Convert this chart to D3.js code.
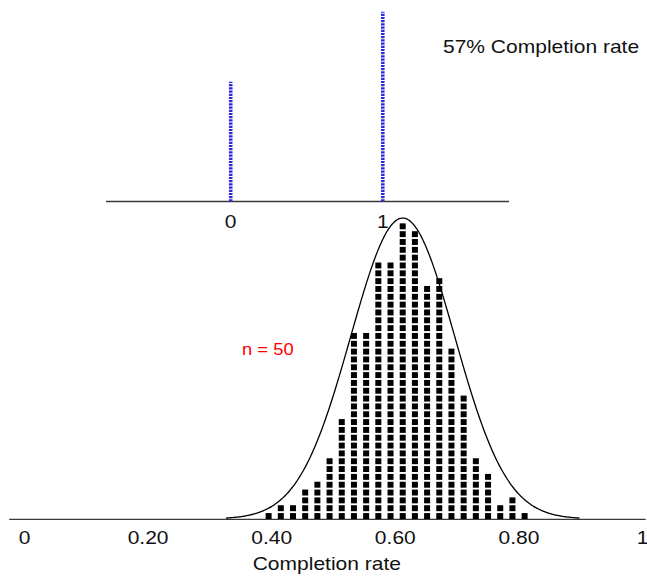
<!DOCTYPE html>
<html>
<head>
<meta charset="utf-8">
<script src="https://cdn.jsdelivr.net/npm/d3@7"></script>
<style>
  html, body { margin: 0; padding: 0; background: #fff; }
  svg { display: block; }
  text { font-family: "Liberation Sans", Arial, sans-serif; }
</style>
</head>
<body>
<svg id="chart" width="647" height="578"></svg>
<script>
// ---- data ----
const popCategories = [0, 1];
const popValues = [0.43, 0.57];
const popTickLabels = ["0", "1"];

const sampleProportions = [0.36, 0.38, 0.40, 0.42, 0.44, 0.46, 0.48, 0.50, 0.52, 0.54, 0.56,
                           0.58, 0.60, 0.62, 0.64, 0.66, 0.68, 0.70, 0.72, 0.74, 0.76, 0.78];
const sampleCounts = [1, 2, 2, 4, 5, 8, 13, 24, 24, 33, 33, 38, 37, 30, 31, 22, 16, 8, 6, 2, 3, 1];

const curveMean = 0.58;
const curveSd = 0.0853;

const axisTickValues = [0, 0.2, 0.4, 0.6, 0.8, 1];
const axisTickLabels = ["0", "0.20", "0.40", "0.60", "0.80", "1"];

const titleText = "57% Completion rate";
const sampleSizeText = "n = 50";
const axisTitle = "Completion rate";

// ---- drawing ----
const svg = d3.select("#chart");
const SX = 1.13; // horizontal stretch of the lettering

// top: population bars
const xTop = d3.scaleLinear().domain([-0.82, 1.83]).range([106, 509]);
const yTop = d3.scaleLinear().domain([0.19, 0.57]).range([201.5, 11.7]);

svg.append("line")
  .attr("x1", xTop.range()[0]).attr("x2", xTop.range()[1])
  .attr("y1", yTop(0.19)).attr("y2", yTop(0.19))
  .attr("stroke", "#3a3a3a").attr("stroke-width", 1.3);

svg.selectAll("line.popbar").data(popCategories).join("line")
  .attr("class", "popbar")
  .attr("x1", d => xTop(d)).attr("x2", d => xTop(d))
  .attr("y1", yTop(0.19))
  .attr("y2", (d, i) => yTop(popValues[i]))
  .attr("stroke", "#2b2bd9")
  .attr("stroke-width", 3.6)
  .attr("stroke-dasharray", "2.2,1");

svg.selectAll("text.poplab").data(popCategories).join("text")
  .attr("class", "poplab")
  .attr("transform", d => `translate(${xTop(d)},228) scale(${SX},1)`)
  .attr("text-anchor", "middle")
  .attr("font-size", 18.6)
  .attr("fill", "#111")
  .text((d, i) => popTickLabels[i]);

svg.append("text")
  .attr("transform", `translate(443,53) scale(${SX},1)`)
  .attr("font-size", 18.6)
  .attr("fill", "#111")
  .text(titleText);

// bottom: sampling distribution
const xDots = d3.scaleLinear().domain([0, 1]).range([49.2, 658.7]);
const yDots = d3.scaleLinear().domain([0, 1]).range([519, 511.17]);
const yCurve = d3.scaleLinear().domain([0, 1]).range([519, 218]);
const xTicks = d3.scaleLinear().domain([0, 1]).range([24, 642]);

// baseline
svg.append("line")
  .attr("x1", xTicks(-0.024)).attr("x2", xTicks(1.006))
  .attr("y1", 519.3).attr("y2", 519.3)
  .attr("stroke", "#3a3a3a").attr("stroke-width", 1.3);

// dots
const dotCells = [];
sampleProportions.forEach((p, i) => {
  for (let j = 1; j <= sampleCounts[i]; j++) dotCells.push({ p, j });
});
const dotW = 6;
svg.append("g").selectAll("rect").data(dotCells).join("rect")
  .attr("x", d => xDots(d.p) - dotW / 2)
  .attr("y", d => yDots(d.j) + 1.9)
  .attr("width", dotW)
  .attr("height", d => yDots(d.j - 1) - yDots(d.j) - 1.9)
  .attr("fill", "#000");

// normal curve
const pts = d3.range(curveMean - 3.4 * curveSd, curveMean + 3.4 * curveSd + 1e-9, curveSd / 40);
const line = d3.line()
  .x(v => xDots(v))
  .y(v => yCurve(Math.exp(-0.5 * Math.pow((v - curveMean) / curveSd, 2))))
  .curve(d3.curveBasis);
svg.append("path")
  .attr("d", line(pts))
  .attr("fill", "none")
  .attr("stroke", "#000")
  .attr("stroke-width", 1.3);

// axis labels
const axis = d3.axisBottom(xTicks)
  .tickValues(axisTickValues)
  .tickSize(0)
  .tickPadding(0)
  .tickFormat((d, i) => axisTickLabels[i]);
const gAxis = svg.append("g").attr("transform", "translate(0,519.3)").call(axis);
gAxis.select(".domain").remove();
gAxis.selectAll("text")
  .attr("y", 25)
  .attr("dy", null)
  .attr("transform", `scale(${SX},1)`)
  .attr("font-size", 18.6)
  .attr("font-family", "Liberation Sans, Arial, sans-serif")
  .attr("fill", "#111");
gAxis.selectAll(".tick").each(function() {
  const t = d3.select(this).select("text");
  t.attr("x", 0);
});

svg.append("text")
  .attr("transform", `translate(${xTicks(0.49)},570) scale(${SX},1)`)
  .attr("text-anchor", "middle")
  .attr("font-size", 18.6)
  .attr("fill", "#111")
  .text(axisTitle);

svg.append("text")
  .attr("transform", `translate(242,355) scale(${SX},1)`)
  .attr("font-size", 16.3)
  .attr("fill", "#ff0000")
  .text(sampleSizeText);
</script>
</body>
</html>
